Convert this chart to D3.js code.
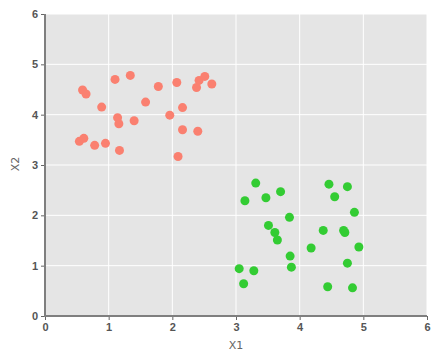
<!DOCTYPE html>
<html>
<head>
<meta charset="utf-8">
<script src="https://cdn.jsdelivr.net/npm/d3@7"></script>
<style>
  body { margin: 0; background: white; }
  svg { display: block; font-family: "DejaVu Sans", sans-serif; }
</style>
</head>
<body>
<svg width="439" height="361"></svg>
<script>
// cluster 1 (salmon)
var redX = [0.59, 0.645, 0.89, 1.10, 1.34, 1.78, 1.58, 2.07, 2.38, 2.42, 2.51, 2.62, 2.16,
            1.96, 1.14, 1.16, 1.40, 2.16, 2.40, 0.54, 0.61, 0.78, 0.95, 1.17, 2.09]
var redY = [4.49, 4.41, 4.15, 4.70, 4.78, 4.56, 4.25, 4.64, 4.54, 4.68, 4.76, 4.61, 4.14,
            3.99, 3.94, 3.82, 3.88, 3.70, 3.67, 3.47, 3.53, 3.39, 3.43, 3.29, 3.17]
// cluster 2 (green)
var greenX = [3.31, 3.14, 3.47, 3.70, 3.84, 3.51, 3.61, 3.65, 3.85, 3.87, 3.05, 3.28, 3.12,
              4.46, 4.75, 4.55, 4.86, 4.37, 4.69, 4.71, 4.18, 4.93, 4.75, 4.44, 4.83]
var greenY = [2.64, 2.29, 2.35, 2.47, 1.96, 1.80, 1.66, 1.51, 1.19, 0.97, 0.94, 0.90, 0.64,
              2.62, 2.57, 2.37, 2.06, 1.70, 1.70, 1.66, 1.35, 1.37, 1.05, 0.58, 0.56]
var ticks = [0, 1, 2, 3, 4, 5, 6]

var svg = d3.select("svg")
var pLeft = 45, pRight = 427, pTop = 14, pBottom = 316

var x = d3.scaleLinear().domain([0, 6]).range([pLeft, pRight])
var y = d3.scaleLinear().domain([0, 6]).range([pBottom, pTop])

//Panel background
svg.append("rect")
    .attr("x", pLeft).attr("y", pTop)
    .attr("width", pRight - pLeft).attr("height", pBottom - pTop)
    .attr("fill", "#e5e5e5")

//Grid
svg.append("g").selectAll("line").data(ticks.slice(1)).join("line")
    .attr("x1", d => x(d)).attr("x2", d => x(d))
    .attr("y1", pTop).attr("y2", pBottom)
    .attr("stroke", "white").attr("stroke-width", 1)
svg.append("g").selectAll("line").data(ticks.slice(1)).join("line")
    .attr("y1", d => y(d)).attr("y2", d => y(d))
    .attr("x1", pLeft).attr("x2", pRight)
    .attr("stroke", "white").attr("stroke-width", 1)

//Axes
var xAxis = svg.append("g").attr("transform", "translate(0," + pBottom + ")")
    .call(d3.axisBottom(x).tickValues(ticks).tickFormat(d3.format("d")).tickSize(4).tickPadding(3))
var yAxis = svg.append("g").attr("transform", "translate(" + pLeft + ",0)")
    .call(d3.axisLeft(y).tickValues(ticks).tickFormat(d3.format("d")).tickSize(4).tickPadding(3))
xAxis.select(".domain").remove()
yAxis.select(".domain").remove()
svg.selectAll(".tick line").attr("stroke", "#666")
svg.selectAll(".tick text")
    .attr("fill", "#555").style("font-size", "11px").style("font-weight", "bold")

svg.append("line").attr("x1", pLeft).attr("x2", pLeft).attr("y1", pTop).attr("y2", pBottom + 1)
    .attr("stroke", "#7f7f7f").attr("stroke-width", 2)
svg.append("line").attr("x1", pLeft - 1).attr("x2", pRight).attr("y1", pBottom).attr("y2", pBottom)
    .attr("stroke", "#7f7f7f").attr("stroke-width", 2)

//Points
var red = redX.map((v, i) => [v, redY[i]])
var green = greenX.map((v, i) => [v, greenY[i]])
svg.append("g").selectAll("circle").data(red).join("circle")
    .attr("cx", d => x(d[0])).attr("cy", d => y(d[1])).attr("r", 4.5)
    .attr("fill", "#fa8070")
svg.append("g").selectAll("circle").data(green).join("circle")
    .attr("cx", d => x(d[0])).attr("cy", d => y(d[1])).attr("r", 4.5)
    .attr("fill", "#33cc33")

//Axis titles
svg.append("text").text("X1")
    .attr("x", 236).attr("y", 349).attr("text-anchor", "middle")
    .attr("fill", "#666").style("font-size", "11px")
svg.append("text").text("X2")
    .attr("transform", "translate(19,164) rotate(-90)").attr("text-anchor", "middle")
    .attr("fill", "#666").style("font-size", "11px")
</script>
</body>
</html>
